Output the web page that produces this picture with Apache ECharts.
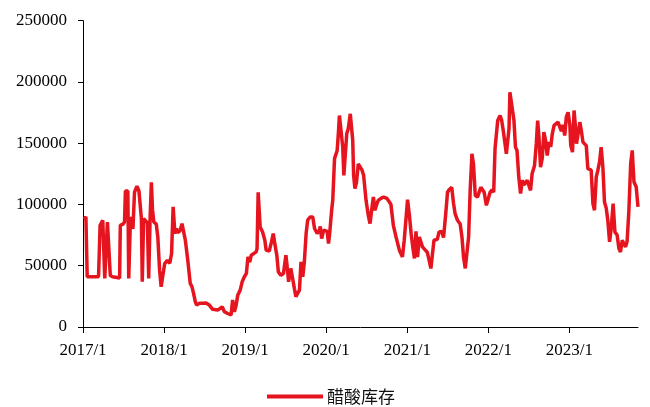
<!DOCTYPE html>
<html>
<head>
<meta charset="utf-8">
<script src="https://cdn.jsdelivr.net/npm/echarts@6/dist/echarts.min.js"></script>
<style>html,body{margin:0;padding:0;background:#fff}#c{width:650px;height:407px}</style>
</head>
<body>
<div id="c"></div>
<script>
const seriesName = '醋酸库存';
const yTicks = [0, 50000, 100000, 150000, 200000, 250000];
const xTickDates = ['2017-01-01','2018-01-01','2019-01-01','2020-01-01','2021-01-01','2022-01-01','2023-01-01'];
const xTickLabels = ['2017/1','2018/1','2019/1','2020/1','2021/1','2022/1','2023/1'];
const dates = [
'2017-01-05','2017-01-14','2017-01-20','2017-03-12','2017-03-19','2017-03-31','2017-04-09','2017-04-15','2017-04-21','2017-04-29',
'2017-05-04','2017-05-14','2017-06-15','2017-06-18','2017-06-30','2017-07-07','2017-07-11','2017-07-22','2017-07-26','2017-08-03',
'2017-08-14','2017-08-21','2017-09-01','2017-09-10','2017-09-21','2017-09-25','2017-10-01','2017-10-18','2017-10-24','2017-10-30',
'2017-11-05','2017-11-10','2017-11-16','2017-11-27','2017-12-04','2017-12-12','2017-12-19','2017-12-25',
'2018-01-04','2018-01-16','2018-01-27','2018-02-04','2018-02-11','2018-02-19','2018-02-26','2018-03-03','2018-03-14','2018-03-23',
'2018-03-30','2018-04-07','2018-04-18','2018-04-29','2018-05-07','2018-05-14','2018-05-22','2018-05-28','2018-06-09','2018-06-24',
'2018-07-09','2018-07-24','2018-08-08','2018-08-31','2018-09-08','2018-09-20','2018-09-30','2018-10-15','2018-10-30','2018-11-06',
'2018-11-14','2018-11-22','2018-11-29','2018-12-10','2018-12-19','2018-12-29',
'2019-01-07','2019-01-14','2019-01-22','2019-01-29','2019-02-04','2019-02-20','2019-02-24','2019-03-01','2019-03-10','2019-03-21',
'2019-03-31','2019-04-06','2019-04-20','2019-04-30','2019-05-08','2019-05-16','2019-05-24','2019-05-31','2019-06-11','2019-06-23',
'2019-07-04','2019-07-11','2019-07-16','2019-07-26','2019-08-03','2019-08-11','2019-08-18','2019-08-26','2019-09-03','2019-09-10',
'2019-09-18','2019-09-25','2019-10-03','2019-10-10','2019-10-21','2019-11-02','2019-11-10','2019-11-22','2019-12-02','2019-12-06',
'2019-12-12','2019-12-21','2019-12-28',
'2020-01-06','2020-01-12','2020-01-18','2020-01-26','2020-01-31','2020-02-08','2020-02-20','2020-02-26','2020-03-01','2020-03-09',
'2020-03-16','2020-03-21','2020-03-27','2020-04-03','2020-04-10','2020-04-19','2020-04-25','2020-04-30','2020-05-04','2020-05-10',
'2020-05-17','2020-05-25','2020-06-02','2020-06-11','2020-06-18','2020-06-29','2020-07-09','2020-07-17','2020-07-24','2020-08-01',
'2020-08-08','2020-08-16','2020-08-23','2020-09-04','2020-09-16','2020-10-01','2020-10-12','2020-10-19','2020-10-30','2020-11-11',
'2020-11-26','2020-12-10','2020-12-18',
'2021-01-02','2021-01-11','2021-01-18','2021-01-25','2021-02-02','2021-02-09','2021-02-16','2021-02-24','2021-03-03','2021-03-10',
'2021-03-22','2021-04-01','2021-04-09','2021-04-17','2021-04-24','2021-05-01','2021-05-09','2021-05-16','2021-05-24','2021-06-05',
'2021-06-13','2021-06-23','2021-07-01','2021-07-08','2021-07-20','2021-07-28','2021-08-04','2021-08-15','2021-08-27','2021-09-04',
'2021-09-11','2021-09-19','2021-09-26','2021-10-04','2021-10-11','2021-10-19','2021-10-26','2021-11-03','2021-11-13','2021-11-21',
'2021-11-28','2021-12-05','2021-12-13','2021-12-23',
'2022-01-01','2022-01-09','2022-01-18','2022-01-25','2022-01-31','2022-02-05','2022-02-12','2022-02-23','2022-03-02','2022-03-09',
'2022-03-17','2022-03-23','2022-03-28','2022-04-04','2022-04-08','2022-04-16','2022-04-26','2022-05-03','2022-05-10','2022-05-18',
'2022-05-26','2022-06-03','2022-06-10','2022-06-18','2022-06-25','2022-07-03','2022-07-10','2022-07-17','2022-07-28','2022-08-05',
'2022-08-11','2022-08-17','2022-08-24','2022-09-01','2022-09-08','2022-09-16','2022-09-23','2022-10-01','2022-10-09','2022-10-16',
'2022-10-24','2022-10-31','2022-11-11','2022-11-19','2022-11-26','2022-12-03','2022-12-11','2022-12-18','2022-12-26',
'2023-01-03','2023-01-07','2023-01-15','2023-01-22','2023-01-27','2023-02-02','2023-02-09','2023-02-17','2023-02-24','2023-03-03',
'2023-03-10','2023-03-18','2023-03-25','2023-04-03','2023-04-09','2023-04-17','2023-04-24','2023-05-02','2023-05-09','2023-05-17',
'2023-05-24','2023-06-01','2023-06-08','2023-06-16','2023-06-23','2023-07-01','2023-07-08','2023-07-17','2023-07-25','2023-08-04',
'2023-08-12','2023-08-19','2023-08-27','2023-09-03','2023-09-11','2023-09-18','2023-09-26','2023-10-04','2023-10-11','2023-10-19',
'2023-10-29','2023-11-06'
];
const values = [
88000,90000,41000,41000,83000,87000,39600,38000,85700,85000,
42000,41000,40000,83000,84000,85700,111000,111000,39600,90000,
80000,110000,115000,111000,88500,37000,88500,85000,39600,87000,
118000,96000,85700,84000,73500,46400,32800,32000,
51800,54500,52000,60000,98000,76300,80400,77000,78500,84400,
84400,70800,54500,35600,32800,27400,20600,17900,19300,19300,
19600,17900,14400,13800,15000,16500,12500,11000,9800,22000,
12500,18000,26000,30100,36900,41000,
43700,57200,53000,58600,58000,61300,64000,110000,81700,77600,
70800,62700,62000,69500,76300,67000,58600,45000,42300,43700,
58600,47000,36900,47800,40000,31500,24700,25500,30100,53200,
41000,53000,76300,87100,89800,89800,80400,76300,79000,82000,
72200,79000,77600,
78000,68100,78000,95300,103400,137400,144100,160000,172600,171300,
146800,123800,125000,157700,162000,174000,175300,152300,123800,113000,
118000,133200,133200,128000,123800,103400,91200,84400,95300,106100,
95300,100000,103400,105000,106100,105000,102000,100000,83000,73500,
62700,57200,70800,
104000,90000,76300,66000,55900,78000,57000,73500,72000,65400,
63000,61000,54500,47800,48500,70800,72000,71500,77600,78000,
73000,92600,110000,112000,114000,101000,92600,87100,84000,73500,
57200,47800,49000,73500,111500,141400,133000,107500,106000,106000,
114000,115000,110000,99300,
99300,110000,112000,110000,145500,147000,168500,172600,168500,160400,
159000,141400,140000,162000,191600,190000,169000,146800,144000,122400,
108900,119700,116000,117500,119700,118500,111500,125000,131900,150000,
168500,155000,130500,138000,159000,152000,140000,151000,147000,157700,
164500,163000,167200,163000,160000,165000,156300,171300,175300,
165000,148200,142700,176700,166000,149600,150000,167200,160000,150900,
151500,148000,129200,129200,128000,100700,95300,122400,127800,135000,
146800,130000,102000,97000,87100,69500,80000,100700,77600,75000,
64000,61300,70800,68000,65400,70000,95300,133200,144100,118300,
114200,98000
];

const toTime = d => +echarts.time.parse(d);
const chart = echarts.init(document.getElementById('c'), null, {renderer: 'canvas'});
const tickTimes = xTickDates.map(toTime);
const labelMap = {};
tickTimes.forEach((t, i) => { labelMap[t] = xTickLabels[i]; });
const serif = 'Liberation Serif';
const red = '#e6141e';
chart.setOption({
  animation: false,
  backgroundColor: '#fff',
  grid: {left: 83, right: 12, top: 20.7, bottom: 80, containLabel: false},
  legend: {
    data: [seriesName],
    left: 267, top: 388, padding: 0,
    icon: 'rect', itemWidth: 56, itemHeight: 4, itemGap: 5,
    textStyle: {fontFamily: 'Noto Sans CJK SC', fontSize: 17, color: '#111', padding: [0, 0, 0, -1]}
  },
  xAxis: {
    type: 'value',
    min: tickTimes[0],
    max: toTime(dates[dates.length - 1]),
    splitLine: {show: false},
    axisLine: {lineStyle: {color: '#000', width: 1}},
    axisTick: {show: true, length: 6, lineStyle: {color: '#000'}, customValues: tickTimes},
    axisLabel: {
      customValues: tickTimes,
      formatter: v => labelMap[v] !== undefined ? labelMap[v] : '',
      fontFamily: serif, fontSize: 17, color: '#000', margin: 15,
      hideOverlap: false
    }
  },
  yAxis: {
    type: 'value',
    min: yTicks[0], max: yTicks[yTicks.length - 1], interval: yTicks[1] - yTicks[0],
    splitLine: {show: false},
    axisLine: {show: true, lineStyle: {color: '#000', width: 1}},
    axisTick: {show: true, length: 5, lineStyle: {color: '#000'}},
    axisLabel: {fontFamily: serif, fontSize: 17, color: '#000', margin: 16, formatter: v => String(v)}
  },
  series: [{
    name: seriesName,
    type: 'line',
    data: dates.map((d, i) => [toTime(d), values[i]]),
    showSymbol: false,
    symbol: 'none',
    lineStyle: {color: red, width: 3.5},
    itemStyle: {color: red}
  }]
});
</script>
</body>
</html>
